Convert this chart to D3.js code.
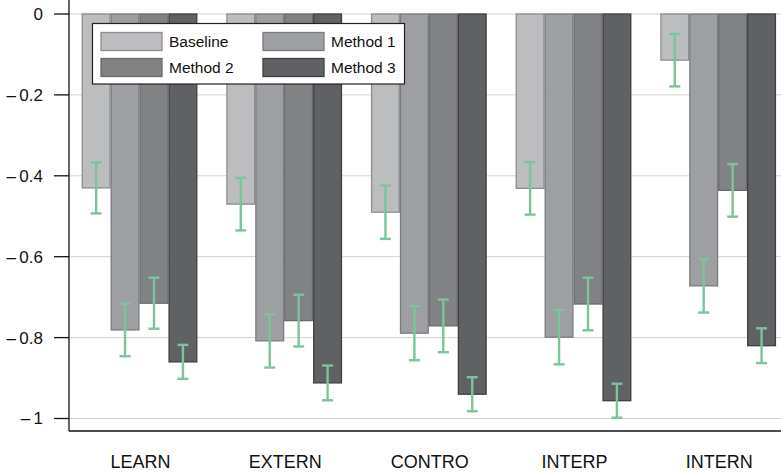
<!DOCTYPE html>
<html>
<head>
<meta charset="utf-8">
<script src="https://cdn.jsdelivr.net/npm/d3@7"></script>
<style>
  body { margin: 0; background: #fff; }
  svg { display: block; font-family: "Liberation Sans", Arial, sans-serif; }
</style>
</head>
<body>
<div id="chart"></div>
<script>
var width = 781, height = 473;

// data
var categories = ["LEARN", "EXTERN", "CONTRO", "INTERP", "INTERN"];
var seriesNames = ["Baseline", "Method 1", "Method 2", "Method 3"];
var baseline = [-0.430, -0.470, -0.490, -0.431, -0.114];
var method1 = [-0.781, -0.808, -0.789, -0.799, -0.672];
var method2 = [-0.715, -0.758, -0.771, -0.717, -0.436];
var method3 = [-0.860, -0.912, -0.940, -0.956, -0.820];
var baselineErr = [0.063, 0.065, 0.066, 0.065, 0.065];
var method1Err = [0.065, 0.066, 0.067, 0.067, 0.066];
var method2Err = [0.063, 0.064, 0.065, 0.065, 0.065];
var method3Err = [0.042, 0.043, 0.042, 0.042, 0.043];
var yTicks = [0, -0.2, -0.4, -0.6, -0.8, -1];

var fills = ["#bcbdbf", "#9d9fa2", "#818284", "#606165"];
var strokes = ["#8d8e90", "#7b7c7f", "#6a6b6d", "#3e3f41"];
var errColor = "#7cc49b";

var values = [baseline, method1, method2, method3];
var errs = [baselineErr, method1Err, method2Err, method3Err];

// flatten into rows for the bars
var rows = [];
categories.forEach(function (c, i) {
    seriesNames.forEach(function (s, j) {
        rows.push({ cat: c, series: s, si: j, value: values[j][i], err: errs[j][i] });
    });
});

var svg = d3.select("#chart").append("svg")
    .attr("width", width)
    .attr("height", height);

var axisX = 69, axisBottom = 431;

var y = d3.scaleLinear().domain([0, -1]).range([14, 418.5]);

var x0 = d3.scaleBand().domain(categories)
    .range([67.2, 790.5])
    .paddingInner(0.2)
    .paddingOuter(0.1);

var x1 = d3.scaleBand().domain(seriesNames)
    .range([0, x0.bandwidth()]);

// gridlines
svg.append("g").selectAll("line")
    .data(yTicks)
    .enter().append("line")
    .attr("x1", axisX).attr("x2", width)
    .attr("y1", function (d) { return y(d); })
    .attr("y2", function (d) { return y(d); })
    .attr("stroke", "#d2d2d2")
    .attr("stroke-width", 1);

// bars
svg.append("g").selectAll("rect")
    .data(rows)
    .enter().append("rect")
    .attr("x", function (d) { return x0(d.cat) + x1(d.series) + 0.6; })
    .attr("y", y(0))
    .attr("width", x1.bandwidth() - 1.2)
    .attr("height", function (d) { return y(d.value) - y(0); })
    .attr("fill", function (d) { return fills[d.si]; })
    .attr("stroke", function (d) { return strokes[d.si]; })
    .attr("stroke-width", 1.3);

// error bars
var eb = svg.append("g").selectAll("g")
    .data(rows)
    .enter().append("g")
    .attr("stroke", errColor)
    .attr("stroke-width", 2.4);

eb.append("line")
    .attr("x1", function (d) { return x0(d.cat) + x1(d.series) + x1.bandwidth() / 2; })
    .attr("x2", function (d) { return x0(d.cat) + x1(d.series) + x1.bandwidth() / 2; })
    .attr("y1", function (d) { return y(d.value + d.err); })
    .attr("y2", function (d) { return y(d.value - d.err); });

[1, -1].forEach(function (sgn) {
    eb.append("line")
        .attr("x1", function (d) { return x0(d.cat) + x1(d.series) + x1.bandwidth() / 2 - 5.5; })
        .attr("x2", function (d) { return x0(d.cat) + x1(d.series) + x1.bandwidth() / 2 + 5.5; })
        .attr("y1", function (d) { return y(d.value + sgn * d.err); })
        .attr("y2", function (d) { return y(d.value + sgn * d.err); });
});

// axes frame
svg.append("line")
    .attr("x1", axisX).attr("x2", axisX)
    .attr("y1", 0).attr("y2", axisBottom)
    .attr("stroke", "#111").attr("stroke-width", 1.3);
svg.append("line")
    .attr("x1", axisX).attr("x2", width)
    .attr("y1", axisBottom).attr("y2", axisBottom)
    .attr("stroke", "#111").attr("stroke-width", 1.3);

// y ticks and labels
var yt = svg.append("g").selectAll("g")
    .data(yTicks)
    .enter().append("g")
    .attr("transform", function (d) { return "translate(0," + y(d) + ")"; });

yt.append("line")
    .attr("x1", 54).attr("x2", axisX)
    .attr("stroke", "#111").attr("stroke-width", 1.3);

yt.append("text")
    .attr("x", 43)
    .attr("dy", "0.35em")
    .attr("text-anchor", "end")
    .attr("font-size", 17)
    .attr("fill", "#111")
    .text(function (d) { return d === 0 ? "0" : "\u2013\u2009" + Math.abs(d); });

// x labels
svg.append("g").selectAll("text")
    .data(categories)
    .enter().append("text")
    .attr("x", function (d) { return x0(d) + x0.bandwidth() / 2 + 1; })
    .attr("y", 468)
    .attr("text-anchor", "middle")
    .attr("font-size", 18)
    .attr("fill", "#111")
    .text(function (d) { return d; });

// legend
var legend = svg.append("g");
legend.append("rect")
    .attr("x", 92.5).attr("y", 23.5)
    .attr("width", 312).attr("height", 60.5)
    .attr("fill", "#fff")
    .attr("stroke", "#222").attr("stroke-width", 1.2);

var li = legend.selectAll("g.item")
    .data(seriesNames)
    .enter().append("g")
    .attr("class", "item")
    .attr("transform", function (d, i) {
        return "translate(" + (i % 2 === 0 ? 101 : 263) + "," + (i < 2 ? 32.5 : 58.5) + ")";
    });

li.append("rect")
    .attr("width", 61).attr("height", 18)
    .attr("fill", function (d, i) { return fills[i]; })
    .attr("stroke", function (d, i) { return strokes[i]; })
    .attr("stroke-width", 1.3);

li.append("text")
    .attr("x", 68)
    .attr("y", 14.5)
    .attr("font-size", 15.5)
    .attr("fill", "#111")
    .text(function (d) { return d; });
</script>
</body>
</html>
